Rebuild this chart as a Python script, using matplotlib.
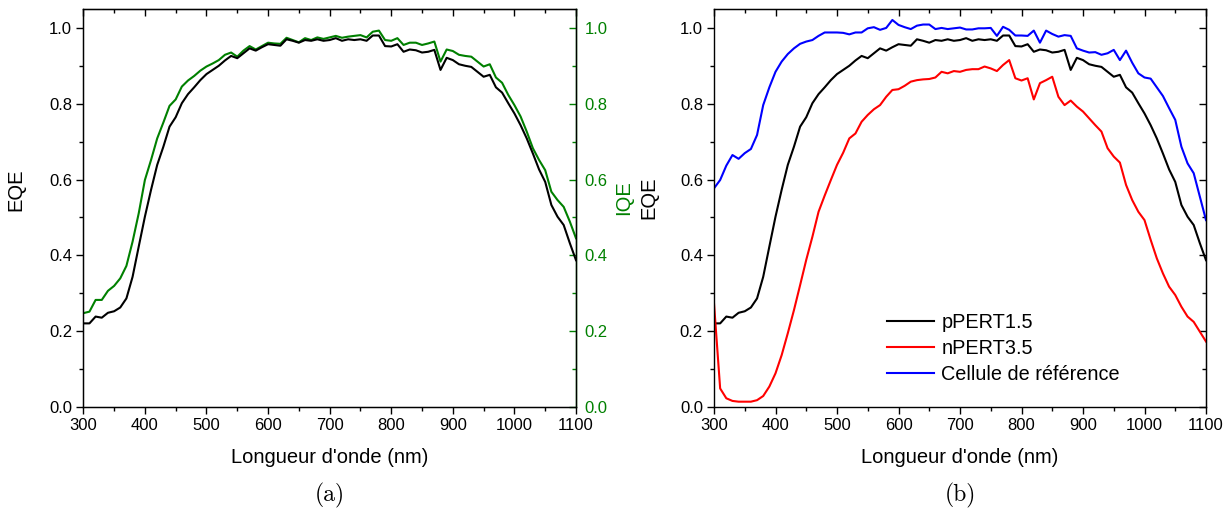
import matplotlib
matplotlib.use("Agg")
import matplotlib.pyplot as plt
from matplotlib.ticker import MultipleLocator

plt.rcParams['font.family'] = ['Liberation Sans', 'DejaVu Sans']

wavelength = list(range(300, 1101, 10))

eqe_pPERT15 = [
    0.220, 0.220, 0.238, 0.235, 0.248, 0.252, 0.262, 0.286, 0.343, 0.423,
    0.502, 0.573, 0.639, 0.687, 0.740, 0.765, 0.802, 0.826, 0.844, 0.863,
    0.879, 0.890, 0.901, 0.915, 0.927, 0.921, 0.934, 0.947, 0.941, 0.950,
    0.958, 0.956, 0.954, 0.971, 0.967, 0.962, 0.969, 0.967, 0.971, 0.967,
    0.969, 0.974, 0.967, 0.971, 0.969, 0.971, 0.967, 0.981, 0.981, 0.953,
    0.952, 0.958, 0.938, 0.944, 0.942, 0.936, 0.938, 0.943, 0.890, 0.922,
    0.916, 0.905, 0.901, 0.898, 0.885, 0.872, 0.877, 0.844, 0.830, 0.802,
    0.775, 0.744, 0.709, 0.669, 0.627, 0.594, 0.533, 0.502, 0.480, 0.432,
    0.387]

iqe_pPERT15 = [
    0.247, 0.251, 0.282, 0.282, 0.306, 0.319, 0.339, 0.372, 0.436, 0.511,
    0.599, 0.652, 0.709, 0.751, 0.795, 0.812, 0.846, 0.862, 0.874, 0.888,
    0.899, 0.907, 0.916, 0.930, 0.936, 0.925, 0.941, 0.953, 0.944, 0.953,
    0.962, 0.960, 0.959, 0.975, 0.969, 0.963, 0.974, 0.969, 0.976, 0.972,
    0.976, 0.980, 0.975, 0.978, 0.980, 0.982, 0.976, 0.991, 0.994, 0.969,
    0.967, 0.974, 0.956, 0.962, 0.962, 0.956, 0.960, 0.965, 0.912, 0.944,
    0.940, 0.930, 0.927, 0.925, 0.912, 0.899, 0.905, 0.870, 0.856, 0.824,
    0.797, 0.767, 0.727, 0.683, 0.652, 0.625, 0.568, 0.546, 0.528, 0.489,
    0.445]

eqe_nPERT35 = [
    0.273, 0.048, 0.022, 0.015, 0.013, 0.013, 0.013, 0.017, 0.028, 0.053,
    0.088, 0.136, 0.194, 0.255, 0.321, 0.388, 0.449, 0.515, 0.558, 0.599,
    0.639, 0.671, 0.709, 0.722, 0.753, 0.771, 0.786, 0.797, 0.819, 0.837,
    0.839, 0.848, 0.859, 0.863, 0.865, 0.866, 0.870, 0.885, 0.881, 0.887,
    0.885, 0.890, 0.892, 0.892, 0.899, 0.894, 0.887, 0.903, 0.916, 0.868,
    0.862, 0.868, 0.812, 0.855, 0.863, 0.872, 0.819, 0.797, 0.809, 0.793,
    0.780, 0.762, 0.744, 0.727, 0.683, 0.661, 0.645, 0.586, 0.546, 0.515,
    0.493, 0.441, 0.392, 0.352, 0.317, 0.295, 0.264, 0.238, 0.224, 0.198,
    0.172]

eqe_reference = [
    0.577, 0.599, 0.637, 0.665, 0.655, 0.670, 0.681, 0.718, 0.797, 0.844,
    0.885, 0.912, 0.932, 0.947, 0.959, 0.965, 0.969, 0.980, 0.989, 0.989,
    0.989, 0.988, 0.984, 0.989, 0.989, 1.000, 1.003, 0.996, 1.001, 1.022,
    1.009, 1.003, 0.998, 1.007, 1.010, 1.010, 0.998, 1.001, 0.998, 1.000,
    1.002, 0.997, 0.997, 1.000, 1.000, 1.001, 0.980, 1.004, 0.996, 0.981,
    0.981, 0.980, 0.994, 0.962, 0.994, 0.985, 0.978, 0.982, 0.980, 0.947,
    0.941, 0.936, 0.937, 0.930, 0.934, 0.943, 0.916, 0.941, 0.909, 0.881,
    0.870, 0.867, 0.844, 0.821, 0.789, 0.758, 0.687, 0.643, 0.617, 0.555,
    0.493]

series_labels = ['pPERT1.5', 'nPERT3.5', 'Cellule de référence']
x_ticks = [300, 400, 500, 600, 700, 800, 900, 1000, 1100]
y_ticks = [0.0, 0.2, 0.4, 0.6, 0.8, 1.0]
panel_labels = ['(a)', '(b)']

GREEN = '#008000'
W, H = 1227, 508
fig = plt.figure(figsize=(W / 100, H / 100), dpi=100)
TICK_FS = 12
LABEL_FS = 14.5

def add_ax(left_px, right_px):
    top_px, bot_px = 9.4, 406.6
    return fig.add_axes([left_px / W, (H - bot_px) / H,
                         (right_px - left_px) / W, (bot_px - top_px) / H])

def style(ax):
    ax.set_xlim(300, 1100)
    ax.set_ylim(0, 1.05)
    ax.set_xticks(x_ticks)
    ax.set_yticks(y_ticks)
    ax.xaxis.set_minor_locator(MultipleLocator(50))
    ax.yaxis.set_minor_locator(MultipleLocator(0.1))
    ax.set_yticklabels([f'{v:.1f}' for v in y_ticks])
    ax.tick_params(axis='both', which='major', direction='out', length=5,
                   width=1, labelsize=TICK_FS, pad=3)
    ax.tick_params(axis='both', which='minor', direction='out', length=3, width=1)
    for s in ax.spines.values():
        s.set_linewidth(1.0)
    sx = ax.secondary_xaxis('top')
    sx.set_xticks(x_ticks)
    sx.xaxis.set_minor_locator(MultipleLocator(50))
    sx.tick_params(which='major', direction='in', length=5, width=1, labeltop=False)
    sx.tick_params(which='minor', direction='in', length=3, width=1)
    sx.set_xticklabels([])
    return ax

# ---- panel (a)
axa = add_ax(83.3, 576.0)
style(axa)
axa.plot(wavelength, eqe_pPERT15, color='black', lw=1.5, zorder=3)
axa.set_xlabel("Longueur d'onde (nm)", fontsize=LABEL_FS, va='center')
axa.xaxis.set_label_coords(0.5, -0.127)
axa.set_ylabel('EQE', fontsize=LABEL_FS, va='center')
axa.yaxis.set_label_coords(-0.137, 0.545)

axa2 = axa.twinx()
axa2.set_ylim(0, 1.05)
axa2.set_yticks(y_ticks)
axa2.set_yticklabels([f'{v:.1f}' for v in y_ticks])
axa2.yaxis.set_minor_locator(MultipleLocator(0.1))
axa2.plot(wavelength, iqe_pPERT15, color=GREEN, lw=1.5, zorder=2)
axa2.tick_params(axis='y', which='major', direction='in', length=5, width=1,
                 colors=GREEN, labelsize=TICK_FS, pad=6)
axa2.tick_params(axis='y', which='minor', direction='in', length=3, width=1, colors=GREEN)
axa2.spines['right'].set_color(GREEN)
axa2.spines['right'].set_linewidth(1.0)
axa2.set_ylabel('IQE', fontsize=LABEL_FS, color=GREEN, va='center')
axa2.yaxis.set_label_coords(1.097, 0.525)
axa.set_zorder(axa2.get_zorder() + 1)
axa.patch.set_visible(False)

# ---- panel (b)
axb = add_ax(714.0, 1206.0)
style(axb)
sy = axb.secondary_yaxis('right')
sy.set_yticks(y_ticks)
sy.yaxis.set_minor_locator(MultipleLocator(0.1))
sy.tick_params(which='major', direction='in', length=5, width=1, labelright=False)
sy.tick_params(which='minor', direction='in', length=3, width=1)
sy.set_yticklabels([])
l1, = axb.plot(wavelength, eqe_pPERT15, color='black', lw=1.5)
l2, = axb.plot(wavelength, eqe_nPERT35, color='#ff0000', lw=1.5)
l3, = axb.plot(wavelength, eqe_reference, color='#0000ff', lw=1.5)
axb.set_xlabel("Longueur d'onde (nm)", fontsize=LABEL_FS, va='center')
axb.xaxis.set_label_coords(0.5, -0.127)
axb.set_ylabel('EQE', fontsize=LABEL_FS, va='center')
axb.yaxis.set_label_coords(-0.132, 0.527)
axb.legend([l1, l2, l3], series_labels, loc='upper left',
           bbox_to_anchor=(0.352, 0.236), frameon=False, fontsize=14.3,
           handlelength=2.37, handletextpad=0.35, labelspacing=0.36,
           borderpad=0, borderaxespad=0)

# ---- captions
for lab, cx in zip(panel_labels, [329.7, 960.0]):
    fig.text(cx / W, 1 - 495 / H, lab, ha='center', va='center',
             fontsize=17, family=['cmr10', 'DejaVu Serif'])

fig.savefig('out.png', dpi=100)
